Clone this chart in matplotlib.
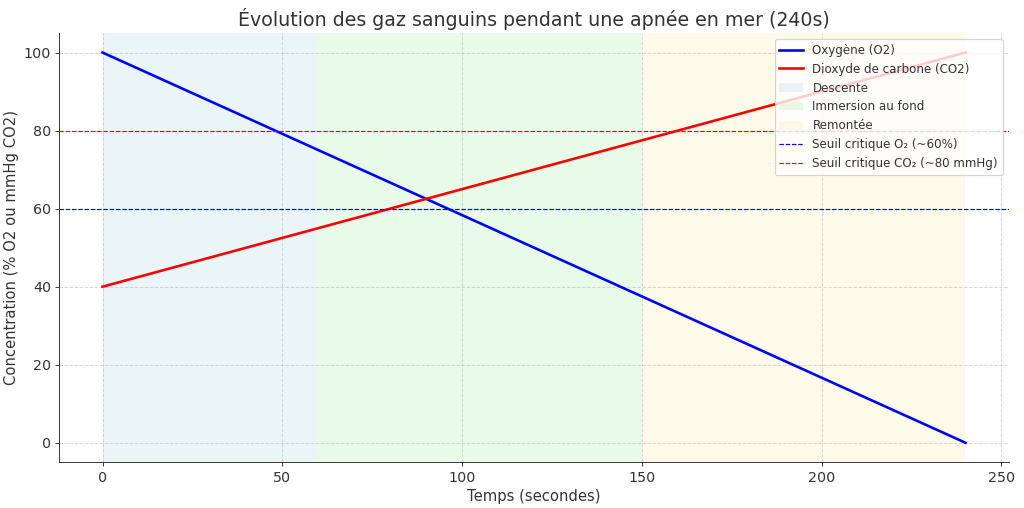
import matplotlib
matplotlib.use("Agg")
import matplotlib.pyplot as plt

# Données
temps = [0, 240]
oxygene = [100, 0]
co2 = [40, 100]
phases = ["Descente", "Immersion au fond", "Remontée"]
phase_bornes = [(0, 60), (60, 150), (150, 240)]
phase_couleurs = ["lightblue", "lightgreen", "khaki"]
seuil_o2 = 60
seuil_co2 = 80

plt.rcParams["text.color"] = "#333333"
plt.rcParams["axes.labelcolor"] = "#333333"
plt.rcParams["xtick.color"] = "#333333"
plt.rcParams["ytick.color"] = "#333333"

DPI = 1024 / 12
fig, ax = plt.subplots(figsize=(12, 508 / DPI), dpi=DPI)

ax.plot(temps, oxygene, color="blue", linewidth=2.2, label="Oxygène (O2)")
ax.plot(temps, co2, color="red", linewidth=2.2, label="Dioxyde de carbone (CO2)")

alphas = [0.25, 0.2, 0.2]
for nom, (a, b), c, al in zip(phases, phase_bornes, phase_couleurs, alphas):
    ax.axvspan(a, b, color=c, alpha=al, label=nom, linewidth=0)

ax.axhline(seuil_o2, color="blue", linestyle="--", linewidth=1, label="Seuil critique O₂ (~60%)")
ax.axhline(seuil_co2, color="red", linestyle="--", linewidth=1, label="Seuil critique CO₂ (~80 mmHg)")

ax.set_title("Évolution des gaz sanguins pendant une apnée en mer (240s)", fontsize=16)
ax.set_xlabel("Temps (secondes)", fontsize=12.5)
ax.set_ylabel("Concentration (% O2 ou mmHg CO2)", fontsize=12.5)
ax.tick_params(labelsize=12)
ax.grid(True, linestyle="--", alpha=0.5)
ax.spines["top"].set_visible(False)
ax.spines["right"].set_visible(False)
for s in ["left", "bottom"]:
    ax.spines[s].set_color("#333333")
ax.legend(loc="upper right", fontsize=10)

plt.subplots_adjust(left=0.058, right=0.985, top=0.935, bottom=0.09)
plt.savefig("out.png", dpi=DPI)
